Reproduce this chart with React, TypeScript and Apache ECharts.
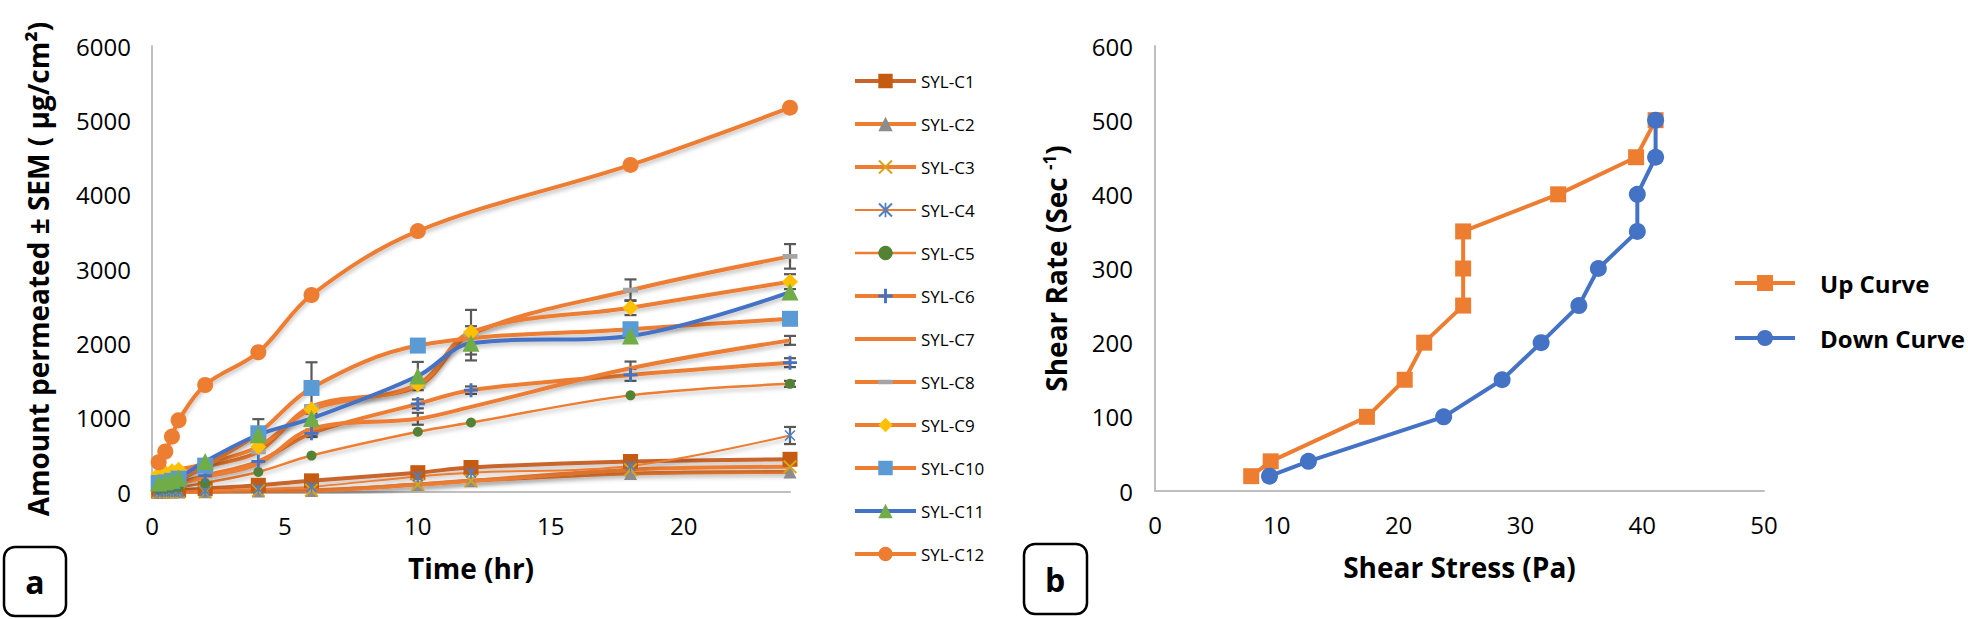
import { useEffect, useRef } from 'react';
import * as echarts from 'echarts';

// ---------- Data: panel a (permeation) ----------
const timesAll = [0.25, 0.5, 0.75, 1, 2, 4, 6, 10, 12, 18, 24];
const timesNo12 = [0.25, 0.5, 0.75, 1, 2, 4, 6, 10, 18, 24];

const sylC1 = [10, 15, 20, 25, 45, 90, 150, 260, 330, 410, 440];
const sylC2 = [0, 0, 0, 0, 5, 15, 20, 100, 150, 250, 270];
const sylC3 = [0, 0, 0, 0, 5, 20, 25, 100, 150, 300, 340];
const sylC4 = [5, 5, 5, 5, 15, 40, 70, 210, 260, 350, 760];
const sylC5 = [30, 40, 50, 60, 120, 270, 490, 810, 935, 1300, 1455];
const sylC6 = [60, 80, 100, 120, 220, 410, 790, 1185, 1370, 1575, 1740];
const sylC7 = [50, 70, 90, 110, 200, 380, 850, 985, 1145, 1665, 2040];
const sylC8 = [80, 110, 130, 160, 330, 540, 1150, 1420, 2120, 2715, 3170];
const sylC9 = [240, 260, 280, 300, 380, 610, 1110, 1450, 2150, 2480, 2830];
const sylC10 = [120, 130, 150, 180, 355, 790, 1400, 1970, 2190, 2330];
const sylC11 = [120, 140, 160, 190, 410, 770, 990, 1560, 2000, 2100, 2690];
const sylC12 = [400, 545, 745, 965, 1440, 1880, 2650, 3510, 4400, 5170];

// SEM values (0 = no visible bar)
const semC4 = [0, 0, 0, 0, 0, 0, 0, 0, 0, 0, 115];
const semC5 = [0, 0, 0, 0, 0, 0, 0, 0, 0, 0, 40];
const semC6 = [0, 0, 0, 0, 0, 0, 50, 60, 50, 80, 60];
const semC7 = [0, 0, 0, 0, 0, 0, 100, 80, 0, 90, 60];
const semC8 = [0, 0, 0, 0, 0, 0, 0, 0, 0, 145, 165];
const semC9 = [0, 0, 0, 0, 0, 0, 0, 0, 300, 100, 100];
const semC10 = [0, 0, 0, 0, 0, 190, 345, 0, 0, 0];
const semC11 = [0, 0, 0, 0, 0, 0, 0, 190, 230, 0, 0];

const seriesNamesA = ['SYL-C1', 'SYL-C2', 'SYL-C3', 'SYL-C4', 'SYL-C5', 'SYL-C6', 'SYL-C7', 'SYL-C8', 'SYL-C9', 'SYL-C10', 'SYL-C11', 'SYL-C12'];

// ---------- Data: panel b (rheogram) ----------
const upStress = [7.9, 9.5, 17.4, 20.5, 22.1, 25.3, 25.3, 25.3, 33.1, 39.5, 41.1];
const upRate = [20, 40, 100, 150, 200, 250, 300, 350, 400, 450, 500];
const downStress = [41.1, 41.1, 39.6, 39.6, 36.4, 34.8, 31.7, 28.5, 23.7, 12.6, 9.4];
const downRate = [500, 450, 400, 350, 300, 250, 200, 150, 100, 40, 20];

const FONT = "'Open Sans', 'Noto Sans', 'DejaVu Sans', sans-serif";
const ORANGE = '#ED7D31';
const BLUE = '#4472C4';

const PLUS = 'path://M4,0H6V4H10V6H6V10H4V6H0V4H4Z';
const CROSS = 'path://M1,0L5,4L9,0L10,1L6,5L10,9L9,10L5,6L1,10L0,9L4,5L0,1Z';
const STAR = 'path://M1,0L5,4L9,0L10,1L6,5L10,9L9,10L5,6L1,10L0,9L4,5L0,1ZM4.4,0H5.6V10H4.4Z';
// horizontal dash centred in a square box (tiny corner points fix the box)
const DASH = 'path://M0,3.4H10V6.6H0ZM0,0L0.01,0ZM0,10L0.01,10Z';

type Spec = {
  times: number[];
  values: number[];
  sem: number[] | null;
  line: string;
  marker: string;
  symbol: string;
  size: number;
  width: number;
};

const specs: Spec[] = [
  { times: timesAll, values: sylC1, sem: null, line: '#C9652B', marker: '#C55A11', symbol: 'rect', size: 15, width: 4 },
  { times: timesAll, values: sylC2, sem: null, line: ORANGE, marker: '#8C8C8C', symbol: 'triangle', size: 13, width: 4 },
  { times: timesAll, values: sylC3, sem: null, line: ORANGE, marker: '#D9A21B', symbol: CROSS, size: 14, width: 4 },
  { times: timesAll, values: sylC4, sem: semC4, line: ORANGE, marker: '#4F7FBF', symbol: STAR, size: 11, width: 2 },
  { times: timesAll, values: sylC5, sem: semC5, line: ORANGE, marker: '#548235', symbol: 'circle', size: 10, width: 2.5 },
  { times: timesAll, values: sylC6, sem: semC6, line: ORANGE, marker: '#4472C4', symbol: PLUS, size: 14, width: 4 },
  { times: timesAll, values: sylC7, sem: semC7, line: ORANGE, marker: ORANGE, symbol: 'none', size: 0, width: 4 },
  { times: timesAll, values: sylC8, sem: semC8, line: ORANGE, marker: '#A5A5A5', symbol: DASH, size: 15, width: 4 },
  { times: timesAll, values: sylC9, sem: semC9, line: ORANGE, marker: '#FFC000', symbol: 'diamond', size: 16, width: 4 },
  { times: timesNo12, values: sylC10, sem: semC10, line: ORANGE, marker: '#5B9BD5', symbol: 'rect', size: 16, width: 4 },
  { times: timesAll, values: sylC11, sem: semC11, line: BLUE, marker: '#70AD47', symbol: 'triangle', size: 17, width: 4 },
  { times: timesNo12, values: sylC12, sem: null, line: ORANGE, marker: ORANGE, symbol: 'circle', size: 16, width: 4 },
];

export default function App() {
  const ref = useRef<HTMLDivElement>(null);

  useEffect(() => {
    if (!ref.current) return;
    const chart = echarts.init(ref.current, undefined, { renderer: 'svg' });

    const errorData: number[][] = [];
    specs.forEach((s) => {
      if (!s.sem) return;
      s.values.forEach((v, i) => {
        if (s.sem && s.sem[i] > 0) errorData.push([s.times[i], v, s.sem[i]]);
      });
    });

    const lineSeriesA = specs.map((s, k) => ({
      name: seriesNamesA[k],
      type: 'line',
      xAxisIndex: 0,
      yAxisIndex: 0,
      smooth: 0.35,
      data: s.times.map((t, i) => [t, s.values[i]]),
      symbol: s.symbol,
      symbolSize: s.size,
      showSymbol: s.symbol !== 'none',
      lineStyle: {
        color: s.line,
        width: s.width,
        shadowColor: 'rgba(0,0,0,0.25)',
        shadowBlur: 4,
        shadowOffsetY: 3,
      },
      itemStyle: { color: s.marker, borderWidth: 0 },
      z: 3,
    }));

    const legendDataA = specs.map((s, k) => ({
      name: seriesNamesA[k],
      lineStyle: { width: s.width, color: s.line, shadowBlur: 0, shadowOffsetY: 0 },
      itemStyle: s.symbol === 'none' ? { opacity: 0 } : { color: s.marker },
    }));

    const axisLabel = { color: '#000', fontSize: 24, fontFamily: FONT };
    const axisLine = { show: true, lineStyle: { color: '#BFBFBF', width: 2 } };
    const nameStyle = { color: '#000', fontSize: 28, fontWeight: 'bold', fontFamily: FONT };
    const plain = (v: number) => String(v);

    chart.setOption({
      animation: false,
      backgroundColor: '#fff',
      grid: [
        { left: 152, top: 46, width: 638, height: 446 },
        { left: 1155, top: 46, width: 609, height: 445 },
      ],
      xAxis: [
        {
          type: 'value', gridIndex: 0, min: 0, max: 24, interval: 5,
          axisLine, axisTick: { show: false }, splitLine: { show: false },
          axisLabel: { ...axisLabel, margin: 21, showMaxLabel: false, formatter: plain },
          name: 'Time (hr)', nameLocation: 'middle', nameGap: 62, nameTextStyle: nameStyle,
        },
        {
          type: 'value', gridIndex: 1, min: 0, max: 50, interval: 10,
          axisLine, axisTick: { show: false }, splitLine: { show: false },
          axisLabel: { ...axisLabel, margin: 21, formatter: plain },
          name: 'Shear Stress (Pa)', nameLocation: 'middle', nameGap: 62, nameTextStyle: nameStyle,
        },
      ],
      yAxis: [
        {
          type: 'value', gridIndex: 0, min: 0, max: 6000, interval: 1000,
          axisLine, axisTick: { show: false }, splitLine: { show: false },
          axisLabel: { ...axisLabel, margin: 21, formatter: plain },
          name: 'Amount permeated ± SEM ( µg/cm²)', nameLocation: 'middle', nameGap: 100, nameTextStyle: nameStyle,
        },
        {
          type: 'value', gridIndex: 1, min: 0, max: 600, interval: 100,
          axisLine, axisTick: { show: false }, splitLine: { show: false },
          axisLabel: { ...axisLabel, margin: 22, formatter: plain },
          name: '{t|Shear Rate (Sec }{s|-1}{t|)}', nameLocation: 'middle', nameGap: 84,
          nameTextStyle: {
            ...nameStyle,
            rich: {
              t: { fontSize: 28, fontWeight: 'bold', fontFamily: FONT, color: '#000', lineHeight: 30 },
              s: { fontSize: 17, fontWeight: 'bold', fontFamily: FONT, color: '#000', verticalAlign: 'top', lineHeight: 30, padding: [0, 0, 12, 0] },
            },
          },
        },
      ],
      legend: [
        {
          data: legendDataA,
          orient: 'vertical',
          left: 848,
          top: 67,
          itemWidth: 61,
          itemHeight: 18,
          itemGap: 25,
          lineStyle: { width: 'inherit', shadowBlur: 0, shadowOffsetY: 0 },
          textStyle: { color: '#000', fontSize: 17, fontFamily: FONT, lineHeight: 18 },
        },
        {
          data: ['Up Curve', 'Down Curve'],
          orient: 'vertical',
          left: 1728,
          top: 266,
          itemWidth: 60,
          itemHeight: 20,
          itemGap: 31,
          lineStyle: { width: 4 },
          textStyle: { color: '#000', fontSize: 24, fontWeight: 'bold', fontFamily: FONT, lineHeight: 22, padding: [0, 0, 0, 20] },
        },
      ],
      series: [
        {
          type: 'custom',
          name: 'SEM',
          xAxisIndex: 0,
          yAxisIndex: 0,
          z: 2,
          data: errorData,
          encode: { x: 0, y: 1 },
          renderItem: (_params: any, api: any) => {
            const x = api.value(0);
            const y = api.value(1);
            const e = api.value(2);
            const top = api.coord([x, y + e]);
            const bot = api.coord([x, y - e]);
            const h = 6;
            const st = { stroke: '#595959', lineWidth: 2.2 };
            return {
              type: 'group',
              children: [
                { type: 'line', shape: { x1: top[0], y1: top[1], x2: bot[0], y2: bot[1] }, style: st },
                { type: 'line', shape: { x1: top[0] - h, y1: top[1], x2: top[0] + h, y2: top[1] }, style: st },
                { type: 'line', shape: { x1: bot[0] - h, y1: bot[1], x2: bot[0] + h, y2: bot[1] }, style: st },
              ],
            };
          },
        },
        ...lineSeriesA,
        {
          name: 'Up Curve',
          type: 'line',
          xAxisIndex: 1,
          yAxisIndex: 1,
          data: upStress.map((s, i) => [s, upRate[i]]),
          symbol: 'rect',
          symbolSize: 16,
          lineStyle: { color: ORANGE, width: 4 },
          itemStyle: { color: ORANGE, borderWidth: 0 },
        },
        {
          name: 'Down Curve',
          type: 'line',
          xAxisIndex: 1,
          yAxisIndex: 1,
          data: downStress.map((s, i) => [s, downRate[i]]),
          symbol: 'circle',
          symbolSize: 17,
          lineStyle: { color: BLUE, width: 4 },
          itemStyle: { color: BLUE, borderWidth: 0 },
        },
      ],
      graphic: [
        { type: 'rect', shape: { x: 4, y: 547, width: 62, height: 69, r: 11 }, style: { fill: '#fff', stroke: '#000', lineWidth: 2.5 } },
        { type: 'text', x: 35, y: 581, style: { text: 'a', fontSize: 32, fontWeight: 'bold', fontFamily: FONT, fill: '#000', align: 'center', verticalAlign: 'middle' } },
        { type: 'rect', shape: { x: 1024, y: 544, width: 63, height: 70, r: 11 }, style: { fill: '#fff', stroke: '#000', lineWidth: 2.5 } },
        { type: 'text', x: 1055, y: 579, style: { text: 'b', fontSize: 32, fontWeight: 'bold', fontFamily: FONT, fill: '#000', align: 'center', verticalAlign: 'middle' } },
      ],
    });

    return () => chart.dispose();
  }, []);

  return (
    <div
      ref={ref}
      style={{ position: 'fixed', left: 0, top: 0, width: 1968, height: 619, background: '#fff' }}
    />
  );
}
